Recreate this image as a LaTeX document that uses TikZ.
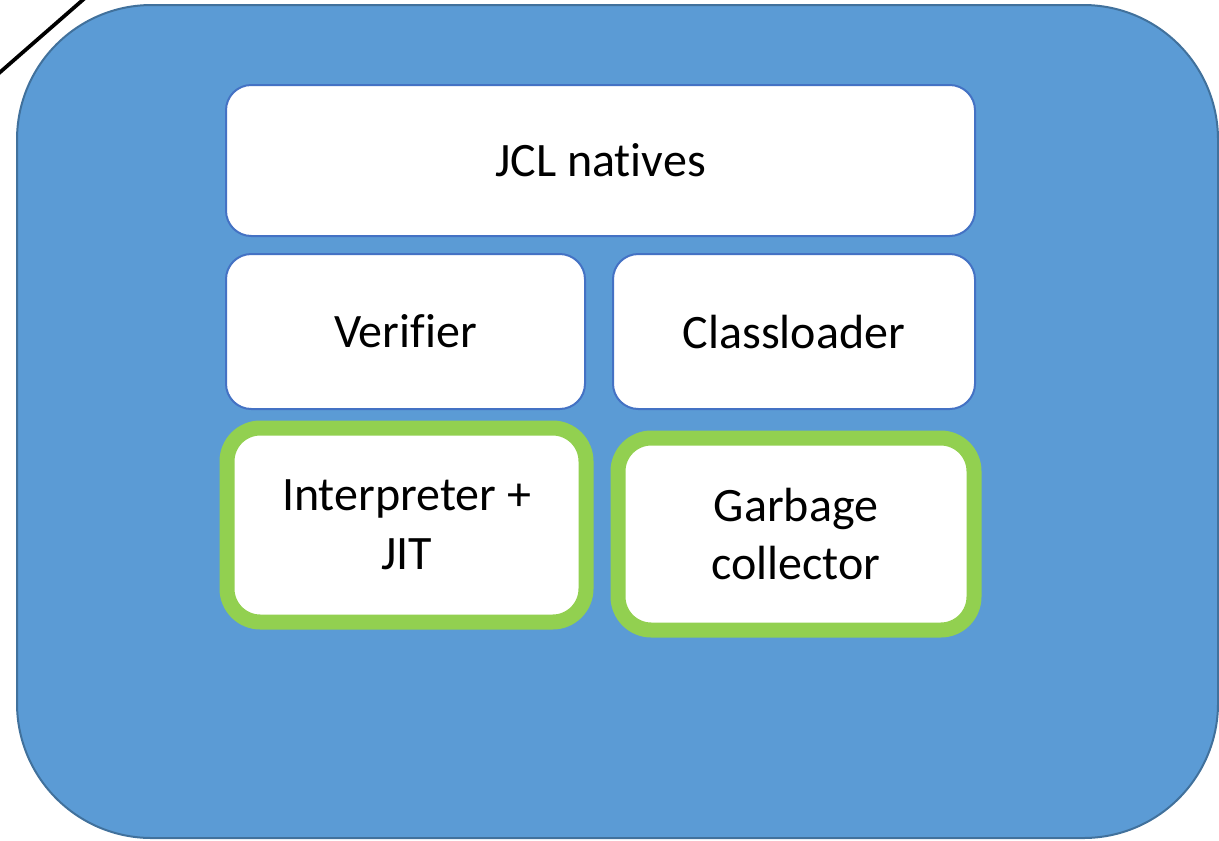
\documentclass[tikz,border=0pt]{standalone}
\usepackage{fontspec}
\setmainfont{Carlito}[Ligatures=NoCommon]
\definecolor{panelblue}{HTML}{5B9BD5}
\definecolor{paneledge}{HTML}{41719C}
\definecolor{boxedge}{HTML}{4472C4}
\definecolor{hilite}{HTML}{92D050}
\tikzset{
  panel/.style={draw=paneledge, line width=1.5pt, fill=panelblue, rounded corners=101pt,
    minimum width=1201*0.75pt, minimum height=833*0.75pt, inner sep=0pt},
  module/.style={draw=boxedge, line width=1.5pt, fill=white, rounded corners=19pt,
    inner sep=0pt, align=center, font=\fontsize{36pt}{44pt}\selectfont},
  hot/.style={module, draw=hilite, line width=11.25pt, rounded corners=25pt},
}
\begin{document}
\begin{tikzpicture}[x=0.75pt,y=-0.75pt]
\useasboundingbox (0,0) rectangle (1219,840);
% outer runtime panel
\node[panel] (vm) at (617.5,421.5) {};
% slanted guide line at the top-left
\coordinate (g1) at (-2,74);
\coordinate (g2) at (85,-2);
\draw[line width=2.8pt] (g1) -- (g2);
% modules
\node[module, minimum width=749*0.75pt, minimum height=151*0.75pt] (jcl) at (600.5,160.5) {JCL natives};
\node[module, minimum width=359*0.75pt, minimum height=155*0.75pt] (ver) at (405.5,331.5) {Veri\kern0pt f\kern0pt ier};
\node[module, minimum width=362*0.75pt, minimum height=155*0.75pt] (cl) at (794,331.5) {Classloader};
\node[hot, minimum width=359*0.75pt, minimum height=194*0.75pt] (interp) at (406.5,525) {Interpreter +\\JIT};
\node[hot, minimum width=356*0.75pt, minimum height=192*0.75pt] (gc) at (796,534) {Garbage\\collector};
\end{tikzpicture}
\end{document}
